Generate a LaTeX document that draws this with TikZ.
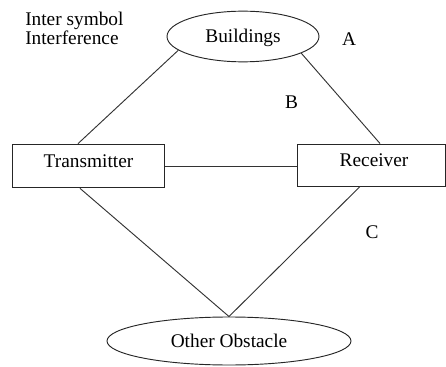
\documentclass[tikz,border=0pt]{standalone}
\usepackage{fontspec}
\setmainfont{Liberation Serif}
\usetikzlibrary{shapes.geometric}
\tikzset{
  txt/.style={font=\fontsize{14.5}{12.75}\selectfont},
  base/.style={draw=black!85, line width=0.7pt, txt, inner sep=0pt},
  oval/.style={base, ellipse, text height=9.6pt, text depth=0pt},
  unit/.style={base, rectangle, text height=10pt, text depth=7.2pt},
  link/.style={draw=black!80, line width=0.7pt},
  lbl/.style={txt, inner sep=0pt}
}
\begin{document}
\begin{tikzpicture}[x=0.75pt,y=-0.75pt]
  \useasboundingbox (0,0) rectangle (446,367);
  % obstacles
  \node[oval, minimum width=114pt, minimum height=38pt] (bld) at (243,36.5) {Buildings};
  \node[oval, minimum width=183pt, minimum height=36pt] (obs) at (229,341) {Other Obstacle};
  % radio units
  \node[unit, minimum width=113.7pt, minimum height=32.8pt] (tx) at (88.5,166) {Transmitter};
  \node[unit, minimum width=111.2pt, minimum height=31.5pt] (rx) at (371.5,165) {\hspace*{3.8pt}Receiver};
  % labels
  \node[lbl, anchor=north west, align=left] (isi) at (25,12) {Inter symbol\\Interference};
  \node[lbl] (la) at (349,39.5) {A};
  \node[lbl] (lb) at (291.5,102) {B};
  \node[lbl] (lc) at (372,232.5) {C};
  % propagation paths
  \draw[link] (tx.east |- 0,166) -- (rx.west |- 0,166);
  \draw[link] (bld.192.6) -- ([xshift=-7.9pt]tx.north);
  \draw[link] (bld.344.6) -- ([xshift=6.4pt]rx.north);
  \draw[link] ([xshift=-6.4pt]tx.south) -- (obs.north);
  \draw[link] ([xshift=-8.6pt]rx.south) -- (obs.north);
\end{tikzpicture}
\end{document}
